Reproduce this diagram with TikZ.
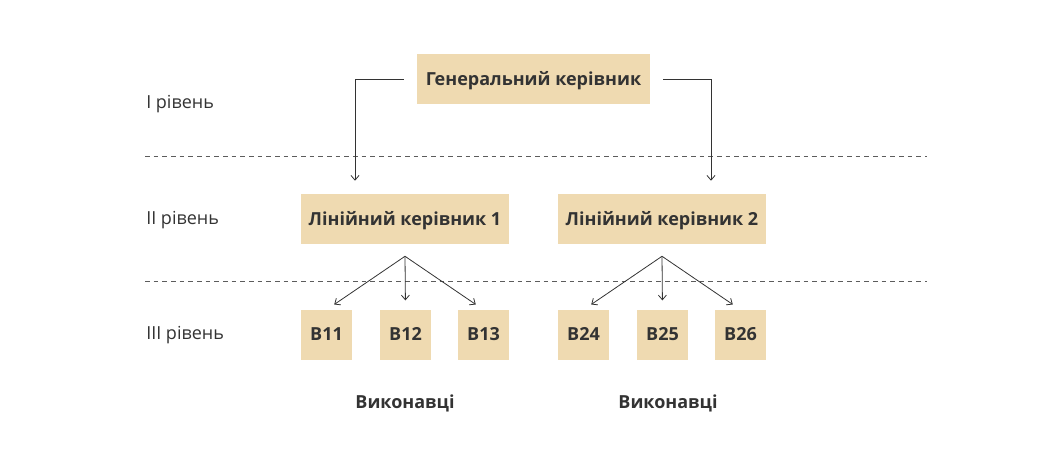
\documentclass[tikz,border=0pt]{standalone}
\usepackage{fontspec}
\setmainfont{Open Sans}
\usepackage{xcolor}
\usetikzlibrary{positioning,arrows.meta,calc}

\definecolor{boxfill}{HTML}{EFDAB1}
\definecolor{inkgray}{HTML}{333333}

\begin{document}
\begin{tikzpicture}[
    x=0.75pt, y=-0.75pt,
    font=\fontsize{13.5}{16}\selectfont,
    text=inkgray,
    >={Straight Barb[length=3.5pt,width=6pt]},
    block/.style={fill=boxfill, rectangle, align=center, minimum height=37.5pt, inner sep=0pt, text depth=1pt, font=\fontsize{13.5}{16}\selectfont\bfseries},
    smallblock/.style={block, minimum width=38.25pt},
    level/.style={anchor=west, inner sep=0pt},
    link/.style={draw=inkgray, line width=0.6pt},
    sep/.style={draw=inkgray!80, dashed, dash pattern=on 3.5pt off 3pt, line width=0.6pt}
]
\useasboundingbox (0,0) rectangle (1062,462);

% рівні
\node[level] (lv1) at (146,104) {I рівень};
\node[level] (lv2) at (146,220) {II рівень};
\node[level] (lv3) at (146,335) {III рівень};

% пунктирні межі
\coordinate (s1a) at (145,156); \coordinate (s1b) at (927,156);
\coordinate (s2a) at (145,281); \coordinate (s2b) at (927,281);
\draw[sep] (s1a) -- (s1b);
\draw[sep] (s2a) -- (s2b);

% генеральний керівник
\node[block, minimum width=174.75pt] (gen) at (533.5,79) {Генеральний керівник};

% лінійні керівники
\node[block, minimum width=156pt] (lin1) at (405,219) {Лінійний керівник 1};
\node[block, minimum width=156pt] (lin2) at (662,219) {Лінійний керівник 2};

% виконавці
\node[smallblock] (b11) at (326.5,335) {В11};
\node[smallblock] (b12) at (405.5,335) {В12};
\node[smallblock] (b13) at (483.5,335) {В13};
\node[smallblock] (b24) at (583.5,335) {В24};
\node[smallblock] (b25) at (662.5,335) {В25};
\node[smallblock] (b26) at (740.5,335) {В26};

\node[font=\fontsize{13.5}{16}\selectfont\bfseries] (vyk1) at (405,403) {Виконавці};
\node[font=\fontsize{13.5}{16}\selectfont\bfseries] (vyk2) at (668,403) {Виконавці};

% від генерального до лінійних
\coordinate (g1) at ($(gen.west)+(-13,0)$);
\coordinate (g2) at ($(gen.east)+(13,0)$);
\draw[link, ->, shorten >=9.75pt] (g1) -| ($(lin1.north)+(-50,0)$);
\draw[link, ->, shorten >=9.75pt] (g2) -| ($(lin2.north)+(49,0)$);

% від лінійних до виконавців
\coordinate (f1) at ($(lin1.south)+(0,12)$);
\coordinate (f2) at ($(lin2.south)+(0,12)$);
\foreach \b in {b11,b12,b13} {
  \draw[link, ->, shorten >=7pt] (f1) -- (\b.north);
}
\foreach \b in {b24,b25,b26} {
  \draw[link, ->, shorten >=7pt] (f2) -- (\b.north);
}

\end{tikzpicture}
\end{document}
